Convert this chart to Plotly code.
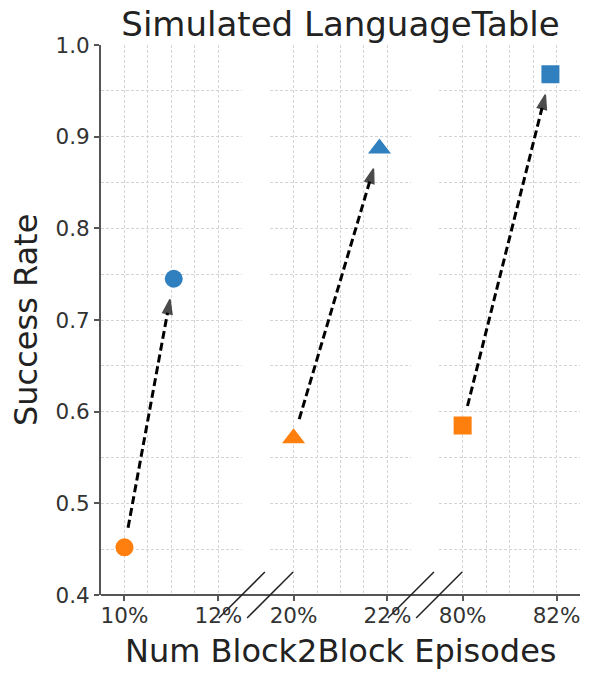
import plotly.graph_objects as go
from plotly.subplots import make_subplots

# success rate before / after, one pair per panel of the broken x axis
before_pct = [10, 20, 80]
before_rate = [0.452, 0.571, 0.585]
after_pct = [11.05, 21.83, 81.87]
after_rate = [0.745, 0.887, 0.968]
marker_symbols = ['circle', 'triangle-up', 'square']
marker_sizes = [18, 20, 18]

# axis ticks of each panel
panel_ranges = [[9.5, 12.5], [19.5, 22.5], [79.5, 82.5]]
major_ticks = [[10, 12], [20, 22], [80, 82]]
minor_ticks = [[10.5, 11, 11.5], [20.5, 21, 21.5], [80.5, 81, 81.5]]
y_ticks = [0.4, 0.5, 0.6, 0.7, 0.8, 0.9, 1.0]

ORANGE = '#ff7f0e'
BLUE = '#3080c0'
GRID = '#d4d4d4'
AXIS = '#555555'
FONT = 'DejaVu Sans'
TICK_FONT = dict(family=FONT, size=21.5, color='#333333')

# the page has an 8px body margin, so margins are set 8px smaller on top/left
W, H = 592, 680
M_L, M_R, M_T, M_B = 93, 20, 37, 93
SPACING = 0.059

plot_w = W - M_L - M_R
plot_h = H - M_T - M_B
panel_px = plot_w * (1 - 2 * SPACING) / 3
x_scale = panel_px / 3.0          # px per percent
y_scale = plot_h / 0.6            # px per unit of success rate

fig = make_subplots(rows=1, cols=3, shared_yaxes=True, horizontal_spacing=SPACING)


def shrink(x0, y0, x1, y1, start_px, end_px):
    """Return the arrow end points pulled back from both markers (in px)."""
    dx = (x1 - x0) * x_scale
    dy = (y1 - y0) * y_scale
    length = (dx ** 2 + dy ** 2) ** 0.5
    t0 = start_px / length
    t1 = 1 - end_px / length
    return ([x0 + (x1 - x0) * t0, x0 + (x1 - x0) * t1],
            [y0 + (y1 - y0) * t0, y0 + (y1 - y0) * t1])


for i in range(3):
    col = i + 1
    ax, ay = shrink(before_pct[i], before_rate[i], after_pct[i], after_rate[i], 20, 21)
    # dashed arrow
    fig.add_trace(go.Scatter(x=ax, y=ay, mode='lines+markers',
                             line=dict(color='black', width=3, dash='8px,4px'),
                             marker=dict(symbol=['circle', 'arrow'], size=[0, 15],
                                         angleref='previous', color='black',
                                         line=dict(color='black', width=1.5)),
                             hoverinfo='skip', showlegend=False), row=1, col=col)
    fig.add_trace(go.Scatter(x=[before_pct[i]], y=[before_rate[i]], mode='markers',
                             marker=dict(symbol=marker_symbols[i], size=marker_sizes[i],
                                         color=ORANGE, line=dict(width=0)),
                             showlegend=False), row=1, col=col)
    fig.add_trace(go.Scatter(x=[after_pct[i]], y=[after_rate[i]], mode='markers',
                             marker=dict(symbol=marker_symbols[i], size=marker_sizes[i],
                                         color=BLUE, line=dict(width=0)),
                             showlegend=False), row=1, col=col)

    fig.update_xaxes(range=panel_ranges[i], tickvals=major_ticks[i],
                     ticktext=[str(v) + '%' for v in major_ticks[i]],
                     showgrid=True, gridcolor=GRID, griddash='3px,2px', gridwidth=1,
                     ticks='outside', ticklen=5, tickwidth=1.5, tickcolor=AXIS,
                     ticklabelstandoff=-4,
                     showline=False, zeroline=False, tickfont=TICK_FONT,
                     minor=dict(tickvals=minor_ticks[i], showgrid=True, gridcolor=GRID,
                                griddash='3px,2px', gridwidth=1, ticks=''),
                     row=1, col=col)
    fig.update_yaxes(range=[0.4, 1.0], tickvals=y_ticks,
                     ticktext=['%.1f' % v for v in y_ticks],
                     showgrid=True, gridcolor=GRID, griddash='3px,2px', gridwidth=1,
                     zeroline=False,
                     minor=dict(dtick=0.05, tick0=0.4, showgrid=True, gridcolor=GRID,
                                griddash='3px,2px', gridwidth=1, ticks=''),
                     row=1, col=col)

# only the first panel keeps the y axis
fig.update_yaxes(showline=True, linecolor=AXIS, linewidth=2, ticks='outside',
                 ticklen=5, tickwidth=1.5, tickcolor=AXIS, tickfont=TICK_FONT,
                 row=1, col=1)
fig.update_yaxes(showticklabels=False, ticks='', showline=False, row=1, col=2)
fig.update_yaxes(showticklabels=False, ticks='', showline=False, row=1, col=3)

# continuous bottom spine
fig.add_shape(type='line', xref='paper', yref='paper', x0=0, x1=1, y0=0, y1=0,
              line=dict(color=AXIS, width=2), layer='above')

# "//" break marks at the panel edges
edges = [fig.layout.xaxis.domain[1], fig.layout.xaxis2.domain[0],
         fig.layout.xaxis2.domain[1], fig.layout.xaxis3.domain[0]]
for edge in edges:
    fig.add_shape(type='line', xref='paper', yref='paper',
                  xsizemode='pixel', xanchor=edge, x0=-23, x1=23,
                  ysizemode='pixel', yanchor=0, y0=-23, y1=23,
                  line=dict(color='#222222', width=1.5), layer='above')

fig.add_annotation(text='Num Block2Block Episodes', xref='paper', yref='paper',
                   x=0.5, y=0, yshift=-56, yanchor='middle', showarrow=False,
                   font=dict(family=FONT, size=32, color='#222222'))
fig.add_annotation(text='Success Rate', xref='paper', yref='paper',
                   x=0, xshift=-75, y=0.5, xanchor='center', yanchor='middle',
                   textangle=-90, showarrow=False,
                   font=dict(family=FONT, size=32, color='#222222'))

fig.update_layout(
    width=W, height=H,
    margin=dict(l=M_L, r=M_R, t=M_T, b=M_B),
    title=dict(text='Simulated LanguageTable', x=0.5, xref='paper',
               y=1 - 16 / H, yref='container', yanchor='middle',
               font=dict(family=FONT, size=34, color='#222222')),
    plot_bgcolor='white', paper_bgcolor='white',
    showlegend=False,
)

fig.write_html("out.html")
